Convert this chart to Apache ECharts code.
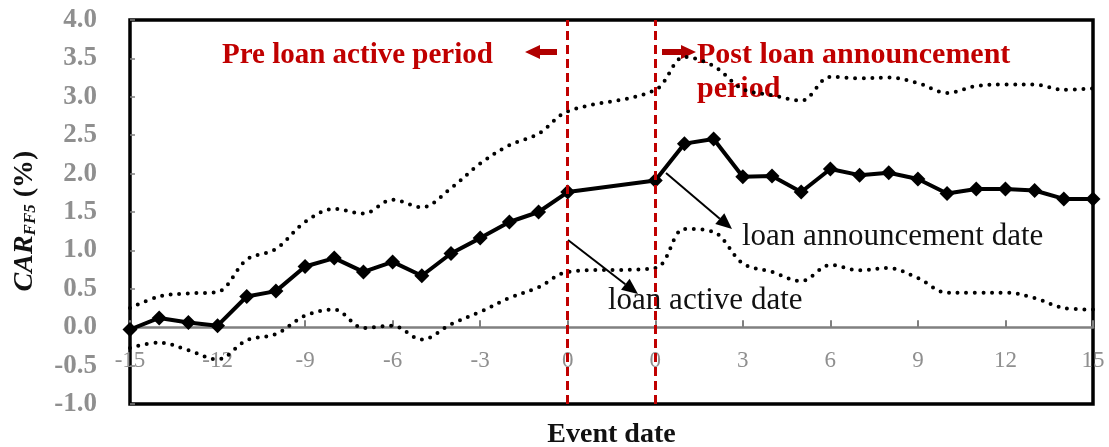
<!DOCTYPE html>
<html>
<head>
<meta charset="utf-8">
<script src="https://cdn.jsdelivr.net/npm/echarts@6/dist/echarts.min.js"></script>
<style>
  html, body { margin: 0; padding: 0; background: #fff; }
  #chart { width: 1109px; height: 447px; }
</style>
</head>
<body>
<div id="chart"></div>
<script>
// Event-window days; two blank slots separate the loan active date from the announcement date
const eventDays = ['-15','-14','-13','-12','-11','-10','-9','-8','-7','-6','-5','-4','-3','-2','-1','0',
                   '','',
                   '0','1','2','3','4','5','6','7','8','9','10','11','12','13','14','15'];

// Cumulative abnormal return (FF5), in percent
const carMean = [-0.03, 0.12, 0.06, 0.02, 0.40, 0.47, 0.79, 0.90, 0.72, 0.85, 0.67, 0.96, 1.16, 1.37, 1.50, 1.76,
                 null, null,
                 1.91, 2.39, 2.45, 1.96, 1.97, 1.76, 2.06, 1.98, 2.01, 1.93, 1.74, 1.80, 1.80, 1.78, 1.67, 1.67];

// Upper and lower confidence bounds
const carUpper = [0.25, 0.40, 0.44, 0.46, 0.88, 1.02, 1.37, 1.54, 1.48, 1.66, 1.56, 1.81, 2.13, 2.37, 2.52, 2.81,
                  null, null,
                  3.09, 3.52, 3.40, 3.10, 3.02, 2.95, 3.26, 3.24, 3.25, 3.18, 3.05, 3.14, 3.16, 3.16, 3.09, 3.11];
const carLower = [-0.27, -0.20, -0.30, -0.42, -0.17, -0.09, 0.15, 0.23, -0.01, 0.02, -0.16, 0.04, 0.20, 0.38, 0.52, 0.72,
                  null, null,
                  0.77, 1.28, 1.24, 0.83, 0.72, 0.60, 0.81, 0.74, 0.77, 0.64, 0.45, 0.45, 0.45, 0.38, 0.25, 0.23];

// Positions (category indices) of the loan active date and loan announcement date
const eventMarks = [15, 18];

const yTicks = { min: -1, max: 4, step: 0.5 };

const SERIF = "'Liberation Serif', 'DejaVu Serif', serif";
const RED = '#c00000';
const GREY = '#8f8f8f';

const GRID = { left: 130, right: 16, top: 20, bottom: 43 };
const CHART_H = 447;

const chart = echarts.init(document.getElementById('chart'), null, { renderer: 'canvas' });

function arrow(x1, y1, x2, y2, color, width, headLen, headHalf) {
  const dx = x2 - x1, dy = y2 - y1;
  const len = Math.sqrt(dx * dx + dy * dy);
  const ux = dx / len, uy = dy / len;
  const bx = x2 - ux * headLen, by = y2 - uy * headLen;
  return [
    { type: 'line', z: 1, shape: { x1: x1, y1: y1, x2: bx, y2: by },
      style: { stroke: color, lineWidth: width } },
    { type: 'polygon', z: 1, shape: { points: [[x2, y2], [bx - uy * headHalf, by + ux * headHalf], [bx + uy * headHalf, by - ux * headHalf]] },
      style: { fill: color } }
  ];
}

// The category axis sits on the zero line: shift it up from the grid bottom
const plotH = CHART_H - GRID.top - GRID.bottom;
const zeroShift = plotH * (0 - yTicks.min) / (yTicks.max - yTicks.min);

const dotted = {
  color: '#000',
  width: 4,
  type: [0, 8.6],
  cap: 'round'
};

const option = {
  animation: false,
  grid: Object.assign({
    show: true, borderColor: '#000', borderWidth: 3.5,
    containLabel: false,
    outerBoundsMode: 'none'
  }, GRID),
  xAxis: {
    type: 'category',
    data: eventDays,
    boundaryGap: false,
    position: 'bottom',
    offset: -zeroShift,
    axisLine: { onZero: false, lineStyle: { color: '#808080', width: 2.5 } },
    axisTick: { inside: true, length: 7, interval: 2, lineStyle: { color: '#808080', width: 2 } },
    axisLabel: { interval: 2, color: GREY, fontFamily: SERIF, fontSize: 23, margin: 22 },
    splitLine: { show: false },
    name: 'Event date',
    nameLocation: 'middle',
    nameGap: 94,
    nameTextStyle: { fontFamily: SERIF, fontWeight: 'bold', fontSize: 28, color: '#111' }
  },
  yAxis: {
    type: 'value',
    min: yTicks.min, max: yTicks.max, interval: yTicks.step,
    axisLine: { show: false },
    axisTick: { show: true, inside: true, length: 5, lineStyle: { color: '#808080', width: 1.5 } },
    axisLabel: {
      color: GREY, fontFamily: SERIF, fontWeight: 'bold', fontSize: 27, margin: 33,
      formatter: v => v.toFixed(1)
    },
    splitLine: { show: false },
    name: '{a|CAR}{b|FF5}{c| (%)}',
    nameLocation: 'middle',
    nameRotate: 90,
    nameGap: 91,
    nameTextStyle: {
      rich: {
        a: { fontFamily: SERIF, fontWeight: 'bold', fontStyle: 'italic', fontSize: 28, color: '#111', lineHeight: 30, verticalAlign: 'bottom' },
        b: { fontFamily: SERIF, fontWeight: 'bold', fontStyle: 'italic', fontSize: 17, color: '#111', lineHeight: 30, verticalAlign: 'bottom', padding: [12, 0, 0, 0] },
        c: { fontFamily: SERIF, fontWeight: 'bold', fontSize: 28, color: '#111', lineHeight: 30, verticalAlign: 'bottom', padding: [0, 18, 0, 0] }
      }
    }
  },
  series: [
    {
      name: 'upper', type: 'line', data: carUpper, connectNulls: true, smooth: 0.35,
      showSymbol: false, lineStyle: dotted, z: 2, silent: true
    },
    {
      name: 'lower', type: 'line', data: carLower, connectNulls: true, smooth: 0.35,
      showSymbol: false, lineStyle: dotted, z: 2, silent: true
    },
    {
      name: 'CAR', type: 'line', data: carMean, connectNulls: true,
      symbol: 'diamond', symbolSize: 15,
      lineStyle: { color: '#000', width: 4 },
      itemStyle: { color: '#000' },
      z: 3, silent: true
    },
    {
      name: 'events', type: 'line', data: [], z: 6, silent: true,
      markLine: {
        silent: true,
        symbol: ['none', 'none'],
        label: { show: false },
        lineStyle: { color: RED, width: 3, type: [9, 5] },
        data: eventMarks.map(i => ({ xAxis: i }))
      }
    }
  ],
  graphic: {
    elements: [
      { type: 'text', left: 222, top: 41, z: 1,
        style: { text: 'Pre loan active period', fill: RED, font: "bold 29px 'Liberation Serif'" } },
      { type: 'polygon', z: 1,
        shape: { points: [[557, 49], [540, 49], [540, 45], [525, 52], [540, 59], [540, 55], [557, 55]] },
        style: { fill: '#b00000' } },
      { type: 'polygon', z: 1,
        shape: { points: [[662, 49], [681, 49], [681, 45], [696, 52], [681, 59], [681, 55], [662, 55]] },
        style: { fill: '#b00000' } },
      { type: 'text', left: 697, top: 40, z: 1,
        style: { text: 'Post loan announcement', fill: RED, font: "bold 30px 'Liberation Serif'" } },
      { type: 'text', left: 697, top: 74, z: 1,
        style: { text: 'period', fill: RED, font: "bold 30px 'Liberation Serif'" } },
      { type: 'text', left: 742, top: 221, z: 1,
        style: { text: 'loan announcement date', fill: '#111', font: "31px 'Liberation Serif'" } },
      { type: 'text', left: 608, top: 285, z: 1,
        style: { text: 'loan active date', fill: '#111', font: "31px 'Liberation Serif'" } }
    ].concat(
      arrow(568, 240, 638, 294, '#000', 2, 16, 7),
      arrow(666, 173, 732, 229, '#000', 2, 16, 7)
    )
  }
};

chart.setOption(option);
</script>
</body>
</html>
